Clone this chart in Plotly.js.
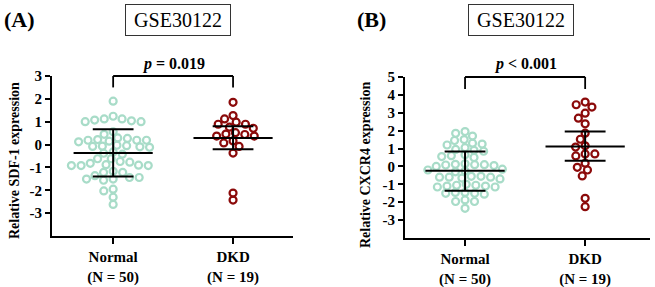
<!DOCTYPE html>
<html><head><meta charset="utf-8">
<script src="https://cdn.plot.ly/plotly-3.0.1.min.js"></script>
<style>html,body{margin:0;padding:0;background:#fff;} #chart{width:655px;height:287px;}</style>
</head><body><div id="chart"></div>
<script>
// ---------------- data ----------------
const groups = ['Normal', 'DKD'];
const groupLabels = ['Normal<br>(N = 50)', 'DKD<br>(N = 19)'];
const datasetTitle = 'GSE30122';

const sdfNormal = [1.90,
  1.12, 1.07, 1.00, 1.00, 1.04, 1.12, 1.24,
  0.56, 0.45,
  0.27, 0.19, 0.12, 0.19, 0.19, 0.29, 0.22, 0.15,
  -0.08, -0.05, -0.10, -0.12, -0.03, -0.07,
  -0.32, -0.38, -0.42,
  -0.62, -0.74, -0.82, -0.92, -0.92, -0.92, -0.90, -0.88, -0.77, -0.62,
  -1.17, -1.22, -1.44, -1.51, -1.56, -1.51, -1.44, -1.36, -1.22,
  -1.95, -2.03, -2.30, -2.62];
const sdfDKD = [1.85, 1.27, 1.12, 0.89, 0.98, 0.89, 0.71, 0.76, 0.44, 0.37,
  0.52, 0.37, 0.46, 0.07, -0.08, 0.16, -0.37, -2.12, -2.43];
const sdfCenter = [-0.37, 0.29];
const sdfUpper = [0.67, 0.80];
const sdfLower = [-1.40, -0.21];
const sdfTicks = [-3, -2, -1, 0, 1, 2, 3];
const sdfP = '<i>p</i> = 0.019';

const cxcr4Normal = [1.95,
  1.85, 1.70,
  1.50, 1.45, 1.30, 1.25, 1.20,
  1.05, 0.95, 0.85, 0.90,
  0.65, 0.55, 0.60, 0.50,
  0.15, 0.10, 0.05, 0.10, 0.12, 0.08, 0.00,
  -0.15, -0.20, -0.25, -0.30,
  -0.55, -0.60, -0.65, -0.60, -0.70, -0.55, -0.60,
  -1.05, -1.10, -1.15, -1.10, -1.00, -1.05, -1.15,
  -1.45, -1.50, -1.55, -1.50, -1.45,
  -1.87, -1.96, -1.96,
  -2.34];
const cxcr4DKD = [3.60, 3.32, 3.45, 2.98, 2.70, 2.38, 1.86, 1.52, 1.15, 1.08,
  0.70, 0.59, 0.70, 0.18, -0.20, -0.53, -0.05, -1.78, -2.25];
const cxcr4Center = [-0.24, 1.12];
const cxcr4Upper = [0.84, 1.96];
const cxcr4Lower = [-1.36, 0.32];
const cxcr4Ticks = [-3, -2, -1, 0, 1, 2, 3, 4, 5];
const cxcr4P = '<i>p</i> &lt; 0.001';

// ---------------- layout helpers ----------------
const W = 655, H = 287;
const SERIF = 'Liberation Serif, Times New Roman, serif';
const colNormal = '#a8dcc8';
const colDKD = '#8b0a0a';

const panels = [
  {id: '', letter: '(A)', letterX: 19, titleX: 178, x0: 52, x1: 293, yTop: 76, yBot: 236,
   xr: [-0.51, 1.5], yr: [-4, 3], ticks: sdfTicks, normal: sdfNormal, dkd: sdfDKD,
   center: sdfCenter, upper: sdfUpper, lower: sdfLower, p: sdfP, legEnd: 2.5,
   ytitle: 'Relative SDF-1 expression', ytX: 14, ytY: 161},
  {id: '2', letter: '(B)', letterX: 371, titleX: 521, x0: 405, x1: 650, yTop: 77, yBot: 238,
   xr: [-0.5, 1.54], yr: [-4, 5], ticks: cxcr4Ticks, normal: cxcr4Normal, dkd: cxcr4DKD,
   center: cxcr4Center, upper: cxcr4Upper, lower: cxcr4Lower, p: cxcr4P, legEnd: 4.33,
   ytitle: 'Relative CXCR4 expression', ytX: 365, ytY: 165}
];

// row-like beeswarm: elliptical exclusion (Dx horizontal, Dy vertical), in pixels
function swarm(vals, pxY, pxX, Dx, Dy) {
  const order = vals.map((v, i) => i).sort((a, b) => vals[b] - vals[a]);
  const placed = [];
  const xs = new Array(vals.length);
  const ok = (c, y, near) => near.every(p => ((p.x - c) / Dx) ** 2 + ((p.y - y) / Dy) ** 2 >= 1 - 1e-6);
  for (const i of order) {
    const y = vals[i] * pxY;
    const near = placed.filter(p => Math.abs(p.y - y) < Dy);
    const cands = [0];
    near.forEach(p => {
      const dx = Dx * Math.sqrt(1 - ((p.y - y) / Dy) ** 2);
      cands.push(p.x + dx, p.x - dx);
    });
    cands.sort((a, b) => (Math.abs(a) - Math.abs(b)) || (a - b));
    const best = cands.find(c => ok(c, y, near));
    placed.push({x: best, y: y});
    xs[i] = best / pxX;
  }
  return xs;
}

const traces = [], shapes = [], annotations = [];
const layout = {
  width: W, height: H, margin: {l: 0, r: 0, t: 0, b: 0},
  paper_bgcolor: '#fff', plot_bgcolor: '#fff', showlegend: false,
  font: {family: SERIF, color: '#000'}
};

panels.forEach(P => {
  const xa = 'x' + P.id, ya = 'y' + P.id;
  const pxY = (P.yBot - P.yTop) / (P.yr[1] - P.yr[0]);
  const pxX = (P.x1 - P.x0) / (P.xr[1] - P.xr[0]);
  [[P.normal, colNormal, 0], [P.dkd, colDKD, 1]].forEach(([vals, col, gi]) => {
    const off = swarm(vals, pxY, pxX, 9.7, 7);
    traces.push({
      type: 'scatter', mode: 'markers', xaxis: xa, yaxis: ya,
      x: off.map(o => gi + o), y: vals, cliponaxis: false,
      marker: {symbol: 'circle-open', size: 7, color: col, line: {width: 2.2, color: col}},
      hoverinfo: 'skip'
    });
  });
  // mean and error bars
  const lx = [], ly = [];
  groups.forEach((g, gi) => {
    lx.push(gi - 0.33, gi + 0.33, null, gi, gi, null, gi - 0.17, gi + 0.17, null, gi - 0.17, gi + 0.17, null);
    ly.push(P.center[gi], P.center[gi], null, P.lower[gi], P.upper[gi], null,
            P.upper[gi], P.upper[gi], null, P.lower[gi], P.lower[gi], null);
  });
  traces.push({type: 'scatter', mode: 'lines', xaxis: xa, yaxis: ya, x: lx, y: ly,
    line: {color: '#000', width: 2}, hoverinfo: 'skip'});

  const axName = P.id;
  layout['xaxis' + axName] = {
    domain: [P.x0 / W, P.x1 / W], anchor: ya, range: P.xr,
    tickvals: [0, 1], ticktext: groupLabels,
    showline: true, linecolor: '#000', linewidth: 2,
    ticks: 'outside', ticklen: 6, tickwidth: 2, tickcolor: '#000',
    showgrid: false, zeroline: false,
    tickfont: {family: SERIF, size: 15, color: '#000', weight: 'bold'}
  };
  layout['yaxis' + axName] = {
    domain: [(H - P.yBot) / H, (H - P.yTop) / H], anchor: xa, range: P.yr,
    tickvals: P.ticks, ticktext: P.ticks.map(t => String(t)),
    showline: true, linecolor: '#000', linewidth: 2,
    ticks: 'outside', ticklen: 5, tickwidth: 2, tickcolor: '#000',
    showgrid: false, zeroline: false,
    tickfont: {family: SERIF, size: 15, color: '#000', weight: 'bold'}
  };
  // bracket
  const legD = (P.legEnd - P.yr[0]) / (P.yr[1] - P.yr[0]);
  const bl = {color: '#000', width: 1.8};
  shapes.push({type: 'line', xref: xa, yref: ya + ' domain', x0: 0, x1: 1, y0: 1, y1: 1, line: bl});
  shapes.push({type: 'line', xref: xa, yref: ya + ' domain', x0: 0, x1: 0, y0: 1, y1: legD, line: bl});
  shapes.push({type: 'line', xref: xa, yref: ya + ' domain', x0: 1, x1: 1, y0: 1, y1: legD, line: bl});
  annotations.push({xref: xa, yref: 'paper', x: 0.5, y: 1 - 64 / H, text: P.p, showarrow: false,
    xanchor: 'center', yanchor: 'middle', font: {family: SERIF, size: 16, color: '#000', weight: 'bold'}});
  // titles
  annotations.push({xref: 'paper', yref: 'paper', x: P.titleX / W, y: 1 - 20 / H, text: datasetTitle,
    showarrow: false, xanchor: 'center', yanchor: 'middle', width: 104, height: 30,
    bordercolor: '#333', borderwidth: 1, borderpad: 0,
    font: {family: SERIF, size: 20, color: '#000'}});
  annotations.push({xref: 'paper', yref: 'paper', x: P.letterX / W, y: 1 - 19 / H, text: P.letter,
    showarrow: false, xanchor: 'center', yanchor: 'middle',
    font: {family: SERIF, size: 22, color: '#000', weight: 'bold'}});
  annotations.push({xref: 'paper', yref: 'paper', x: P.ytX / W, y: 1 - P.ytY / H, text: P.ytitle,
    showarrow: false, xanchor: 'center', yanchor: 'middle', textangle: -90,
    font: {family: SERIF, size: 14, color: '#000', weight: 'bold'}});
});
layout.shapes = shapes;
layout.annotations = annotations;

Plotly.newPlot('chart', traces, layout, {staticPlot: true, displayModeBar: false});
</script>
</body></html>
